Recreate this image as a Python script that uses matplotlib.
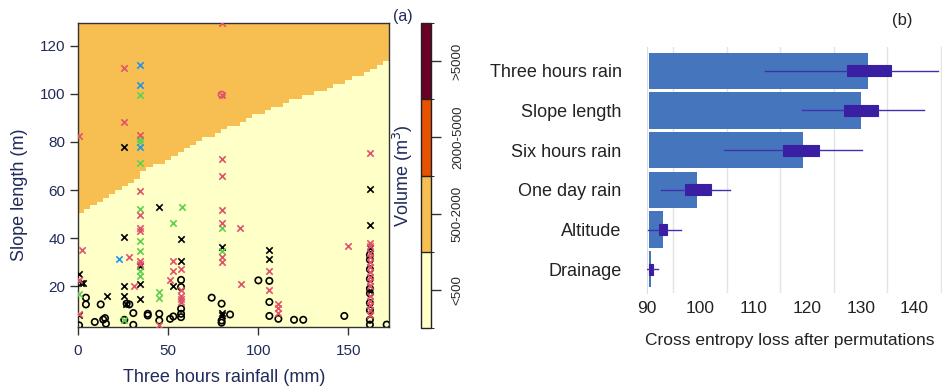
import numpy as np
import matplotlib
matplotlib.use("Agg")
import matplotlib.pyplot as plt
from matplotlib.colors import ListedColormap, BoundaryNorm
from matplotlib.cm import ScalarMappable

plt.rcParams["font.family"] = ["Liberation Sans", "DejaVu Sans"]

# ---------------- panel (a) data ----------------
# decision boundary between the "<500" and "500-2000" regions
bound_rain = [0, 20, 40, 80, 120, 150, 172.6]
bound_slope = [50, 59, 69, 85, 97.6, 105.2, 114]

black_x_rain = [25.7, 162, 45.1, 162, 25.7, 57.2, 57.2, 79.7, 106.2, 106.2, 34.4, 34.4, 34.4,
                25.7, 25.7, 26.6, 52.9, 16.3, 3.0, 0.6, 0.6, 79.7, 79.7, 162, 162, 162, 1.5]
black_x_slope = [78.1, 60.5, 52.8, 45.4, 40.6, 39.6, 30.6, 36.2, 35.1, 31.1, 28.2, 20.7, 14.7,
                 20.1, 16.1, 12.7, 19.9, 16.1, 21.2, 25.1, 7.8, 8.8, 7.8, 36, 18, 8, 21.5]

black_o_rain = [28.5, 27.0, 30.7, 30.7, 25.7, 57.2, 57.2, 57.2, 57.2, 57.2, 38.7, 38.7, 45.1, 45.1,
                51.1, 52.9, 9.3, 15.0, 15.5, 14.0, 12.6, 4.4, 4.4, 0.6, 74.2, 79.7, 79.7, 79.7,
                84.4, 100.1, 106.2, 106.2, 106.2, 111.2, 119.9, 125.0, 147.8, 171.3,
                162, 162, 162, 162, 162, 162, 162, 162, 162, 162]
black_o_slope = [12.4, 12.7, 8.8, 3.9, 6.0, 22.6, 19.6, 10.6, 8.5, 7.1, 8.5, 7.8, 8.5, 5.7,
                 6.4, 7.4, 5.1, 6.7, 4.4, 6.1, 12.4, 15.2, 12.4, 3.7, 15.2, 12.7, 5.7, 4.8,
                 8.2, 22.4, 22.2, 13.4, 7.6, 6.4, 6.0, 6.0, 7.6, 4.0,
                 33, 31, 27, 23, 19, 17, 13, 10, 6, 4]

red_x_rain = [0.7, 25.7, 25.7, 34.4, 79.7, 79.7, 79.7, 79.7, 162, 34.4, 34.4, 79.7, 79.7, 89.9,
              34.4, 34.4, 2.0, 28.5, 52.9, 57.2, 52.9, 79.7, 79.7, 106.2, 106.2, 150, 34.4,
              31.3, 51.1, 57.2, 57.2, 57.2, 57.2, 45.1, 0.6, 111.2, 111.2, 111.2, 90.5,
              162, 162, 162, 162, 162, 162, 162, 162, 162, 162, 162, 162, 162, 162, 162,
              0.3, 34.4]
red_x_slope = [82.5, 110.8, 88.3, 82.8, 129.5, 99.7, 72.7, 65.8, 75.3, 59.4, 49.6, 51.8, 46.3, 44.1,
               44.1, 43.1, 35.1, 32.0, 30.6, 27.2, 26.5, 32.0, 30.2, 26.2, 18.3, 36.9, 29.3,
               19.9, 22.6, 18.2, 16.1, 14.7, 13.4, 4.0, 22.4, 12.7, 10.8, 9.0, 20.7,
               38, 36.5, 34, 32, 30, 28, 26, 24, 22, 20, 16, 14, 12, 10, 8,
               8.5, 30.5]

red_o_rain = [79.7]
red_o_slope = [99.7]

green_x_rain = [34.4, 34.4, 34.4, 34.4, 57.5, 52.9, 79.7, 34.4, 34.4, 79.7, 34.4, 34.4,
                45.1, 45.1, 0.6, 25.7, 34.4]
green_x_slope = [99.7, 81.1, 71.4, 52.1, 52.8, 46.1, 44.1, 38.9, 34.8, 34.8, 26.5, 24.4,
                 17.5, 15.2, 16.8, 6.0, 80.0]

blue_x_rain = [34.4, 34.4, 34.4, 22.9]
blue_x_slope = [111.9, 103.9, 78.1, 31.3]

volume_labels = ["<500", "500-2000", "2000-5000", ">5000"]
volume_colors = ["#FFFFC8", "#F7BF52", "#E65200", "#6B0026"]

# ---------------- panel (b) data ----------------
features = ["Three hours rain", "Slope length", "Six hours rain", "One day rain", "Altitude", "Drainage"]
loss_mean = [131.35, 130.0, 119.2, 99.5, 93.1, 90.9]
loss_whislo = [112.2, 119.0, 104.5, 92.7, 90.3, 90.1]
loss_q1 = [127.5, 126.9, 115.5, 97.1, 92.4, 90.4]
loss_med = [131.5, 130.0, 119.0, 99.5, 93.0, 90.8]
loss_q3 = [135.6, 133.3, 122.3, 102.1, 93.8, 91.2]
loss_whishi = [144.5, 141.9, 130.2, 105.6, 96.4, 92.1]
loss_base = 90.5

W, H = 942, 386
fig = plt.figure(figsize=(W / 100, H / 100), dpi=100)


def box(l, t, r, b):
    return [l / W, 1 - b / H, (r - l) / W, (b - t) / H]


navy = "#1F2B5A"

# ---------------- panel (a) ----------------
ax = fig.add_axes(box(78, 23, 389, 327))
xlim = (0, 172.6)
ylim = (3, 129.5)
gx = np.linspace(xlim[0], xlim[1], 51)
gy = np.linspace(ylim[0], ylim[1], 81)
cx = (gx[:-1] + gx[1:]) / 2
cy = (gy[:-1] + gy[1:]) / 2
limit = np.interp(cx, bound_rain, bound_slope)
zone = (cy[:, None] > limit[None, :]).astype(int)
ax.pcolormesh(gx, gy, zone, cmap=ListedColormap(volume_colors[:2]), vmin=0, vmax=1,
              shading="flat", rasterized=True)

ms = 21
ax.scatter(black_o_rain, black_o_slope, s=ms, marker="o", facecolors="none",
           edgecolors="black", linewidths=1.2, zorder=3)
ax.scatter(red_o_rain, red_o_slope, s=ms, marker="o", facecolors="none",
           edgecolors="#DF536B", linewidths=1.2, zorder=3)
ax.scatter(black_x_rain, black_x_slope, s=ms, marker="x", c="black", linewidths=1.2, zorder=3)
ax.scatter(green_x_rain, green_x_slope, s=ms, marker="x", c="#61D04F", linewidths=1.2, zorder=4)
ax.scatter(blue_x_rain, blue_x_slope, s=ms, marker="x", c="#2297E6", linewidths=1.2, zorder=4)
ax.scatter(red_x_rain, red_x_slope, s=ms, marker="x", c="#DF536B", linewidths=1.2, zorder=4)

ax.set_xlim(*xlim)
ax.set_ylim(*ylim)
ax.set_xticks([0, 50, 100, 150])
ax.set_yticks([20, 40, 60, 80, 100, 120])
ax.tick_params(axis="both", direction="out", length=6, width=1, colors="#333333",
               labelcolor=navy, labelsize=11, pad=3)
ax.tick_params(axis="x", pad=6)
for s in ax.spines.values():
    s.set_color("#333333")
    s.set_linewidth(1)

fig.text(224 / W, 1 - 378 / H, "Three hours rainfall (mm)", ha="center", va="center",
         fontsize=13, color=navy)
fig.text(20 / W, 1 - 195 / H, "Slope length (m)", ha="center", va="center",
         rotation=90, fontsize=13, color=navy)
fig.text(403 / W, 1 - 17 / H, "(a)", ha="center", va="center", fontsize=11.5, color=navy)

# colour bar
cax = fig.add_axes(box(421, 23, 431, 328))
cmap = ListedColormap(volume_colors)
norm = BoundaryNorm([0, 1, 2, 3, 4], cmap.N)
cb = fig.colorbar(ScalarMappable(norm=norm, cmap=cmap), cax=cax, drawedges=True)
cb.set_ticks([0.5, 1.5, 2.5, 3.5])
cb.set_ticklabels(volume_labels)
cb.outline.set_linewidth(1)
cb.outline.set_edgecolor("#222222")
cb.dividers.set_color("#222222")
cb.dividers.set_linewidth(1)
cax.tick_params(length=7, width=1, color="#333333", labelsize=9.5, labelcolor="#2a2a2a", pad=8)
for lab in cax.get_yticklabels():
    lab.set_rotation(90)
    lab.set_va("center")
    lab.set_ha("left")
cax.yaxis.set_label_position("left")
cax.set_ylabel("Volume (m$^3$)", fontsize=13, color=navy, labelpad=4)

# ---------------- panel (b) ----------------
bx = fig.add_axes(box(646.5, 47, 942, 293))
pos = np.arange(len(features))
bx.barh(pos, np.array(loss_mean) - loss_base, left=loss_base, height=0.91,
        color="#4576BD", zorder=2)
stats = [dict(whislo=lo, q1=a, med=m, q3=b, whishi=hi, fliers=[])
         for lo, a, m, b, hi in zip(loss_whislo, loss_q1, loss_med, loss_q3, loss_whishi)]
bx.bxp(stats, positions=pos, widths=0.28, vert=False, patch_artist=True,
       showcaps=False, showfliers=False,
       boxprops=dict(facecolor="#3A1FA2", edgecolor="#3A1FA2", linewidth=0.8),
       whiskerprops=dict(color="#4030B0", linewidth=1.0),
       medianprops=dict(color="#3A1FA2", linewidth=0.8), manage_ticks=False, zorder=3)

bx.set_xlim(90.4, 145.2)
bx.set_ylim(5.6, -0.6)
bx.set_xticks(np.arange(95, 150, 5), minor=True)
bx.set_xticks([90, 100, 110, 120, 130, 140])
bx.grid(axis="x", which="minor", color="#E3E3E3", linewidth=1, zorder=0)
bx.set_yticks(pos)
bx.set_yticklabels(features)
bx.tick_params(axis="y", length=0, pad=18, labelsize=13, labelcolor="#222222")
bx.tick_params(axis="x", which="both", length=0, pad=6, labelsize=12.5, labelcolor="#222222")
for name, s in bx.spines.items():
    s.set_visible(name == "left")
bx.spines["left"].set_color("#DDDDDD")

fig.text(790 / W, 1 - 340 / H, "Cross entropy loss after permutations", ha="center",
         va="center", fontsize=12.5, color="#222222")
fig.text(902 / W, 1 - 20 / H, "(b)", ha="center", va="center", fontsize=12, color="#222222")

fig.savefig("out.png", dpi=100)
